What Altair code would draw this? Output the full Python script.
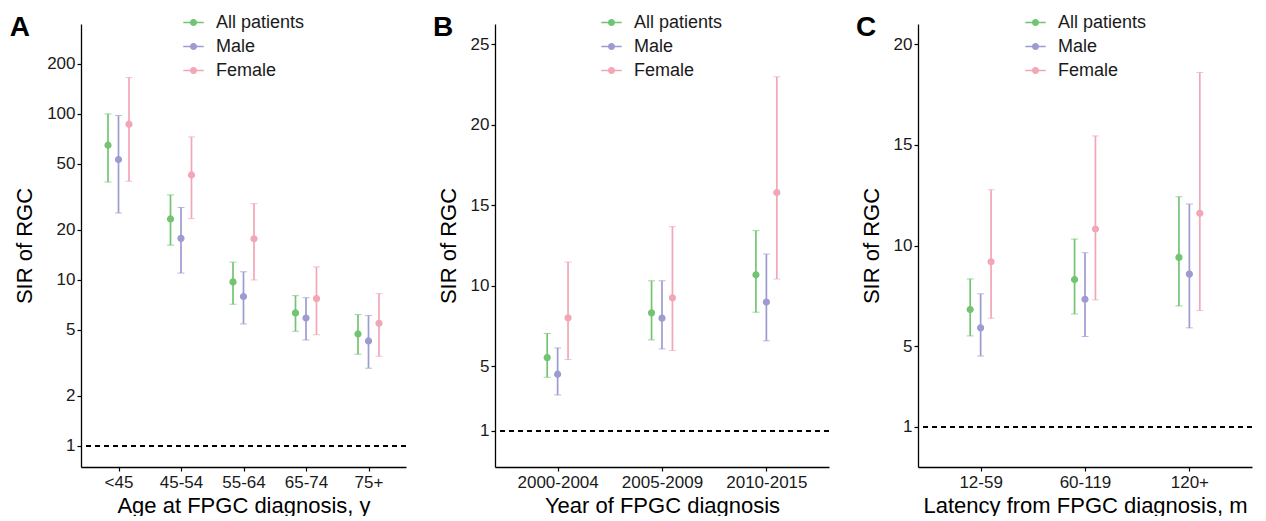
import json
import altair as alt
import pandas as pd

GROUPS = ["All patients", "Male", "Female"]
COLORS = ["#72C473", "#9C9BD2", "#F2A6B6"]
FONT = "Liberation Sans"
SYMBOL = "M-1,0L1,0M0.27,0A0.27,0.27,0,1,1,-0.27,0A0.27,0.27,0,1,1,0.27,0Z"

# Panel A: age at FPGC diagnosis
age_cats = ["<45", "45-54", "55-64", "65-74", "75+"]
a_all_est = [64.8, 23.3, 9.73, 6.33, 4.73]
a_all_lo = [38.9, 16.2, 7.14, 4.91, 3.57]
a_all_hi = [100.0, 32.5, 12.8, 8.04, 6.18]
a_male_est = [53.1, 17.8, 7.94, 5.90, 4.29]
a_male_lo = [25.3, 11.0, 5.43, 4.35, 2.94]
a_male_hi = [97.7, 27.3, 11.2, 7.82, 6.10]
a_female_est = [86.7, 42.9, 17.7, 7.72, 5.48]
a_female_lo = [39.3, 23.4, 10.0, 4.68, 3.47]
a_female_hi = [165.5, 72.7, 28.8, 11.98, 8.27]

# Panel B: year of FPGC diagnosis
year_cats = ["2000-2004", "2005-2009", "2010-2015"]
b_all_est = [5.54, 8.32, 10.68]
b_all_lo = [4.32, 6.64, 8.36]
b_all_hi = [7.04, 10.31, 13.42]
b_male_est = [4.51, 7.99, 8.99]
b_male_lo = [3.22, 6.08, 6.58]
b_male_hi = [6.14, 10.31, 11.97]
b_female_est = [8.01, 9.25, 15.79]
b_female_lo = [5.42, 5.98, 10.42]
b_female_hi = [11.47, 13.67, 22.97]

# Panel C: latency from FPGC diagnosis
lat_cats = ["12-59", "60-119", "120+"]
c_all_est = [6.82, 8.31, 9.41]
c_all_lo = [5.51, 6.60, 7.00]
c_all_hi = [8.34, 10.32, 12.42]
c_male_est = [5.91, 7.33, 8.58]
c_male_lo = [4.51, 5.48, 5.91]
c_male_hi = [7.60, 9.64, 12.06]
c_female_est = [9.19, 10.82, 11.60]
c_female_lo = [6.39, 7.30, 6.77]
c_female_hi = [12.77, 15.44, 18.59]


def make_df(cats, est, lo, hi, dodge):
    rows = []
    for gi, g in enumerate(GROUPS):
        for ci, c in enumerate(cats):
            rows.append(dict(cat=c, group=g, pos=ci + (gi - 1) * dodge,
                             est=est[gi][ci], lo=lo[gi][ci], hi=hi[gi][ci]))
    return pd.DataFrame(rows)


def panel(letter, cats, df, yscale, yvalues, xtitle, width, legend_x):
    n = len(cats)
    labexpr = json.dumps(cats) + "[round(datum.value)]"
    xenc = alt.X("pos:Q",
                 scale=alt.Scale(domain=[-0.6, n - 0.4], nice=False, zero=False),
                 axis=alt.Axis(values=list(range(n)), labelExpr=labexpr, title=xtitle,
                               labelPadding=3, titlePadding=5))
    yaxis = alt.Axis(values=yvalues, format="d", title="SIR of RGC", titlePadding=10)
    cscale = alt.Scale(domain=GROUPS, range=COLORS)
    leg = alt.Legend(orient="none", legendX=legend_x, legendY=-13,
                     symbolType=SYMBOL, symbolSize=420, symbolStrokeWidth=1.6,
                     labelFontSize=18, labelOffset=11, rowPadding=3, direction="vertical")
    base = alt.Chart(df)
    bars = base.mark_errorbar(ticks={"size": 7, "strokeWidth": 1.7},
                              rule={"strokeWidth": 1.7}).encode(
        x=xenc,
        y=alt.Y("lo:Q", scale=yscale, axis=yaxis),
        y2="hi:Q",
        color=alt.Color("group:N", scale=cscale, legend=None),
    )
    pts = base.mark_point(filled=False, size=36, strokeWidth=1.2, opacity=1).encode(
        x=xenc,
        y=alt.Y("est:Q", scale=yscale, axis=yaxis),
        color=alt.Color("group:N", scale=cscale, title=None, legend=leg),
        fill=alt.Fill("group:N", scale=cscale, title=None, legend=leg),
    )
    ref = base.mark_rule(color="black", strokeDash=[5, 4], strokeWidth=1.3).encode(
        y=alt.datum(1)
    )
    return alt.layer(ref, bars, pts).properties(
        width=width, height=443,
        title=alt.TitleParams(letter, anchor="start", frame="bounds", fontSize=28,
                              fontWeight="bold", font=FONT, color="black",
                              baseline="alphabetic", offset=-53, dx=-4),
    ).resolve_scale(color="independent", fill="independent")


df_a = make_df(age_cats, [a_all_est, a_male_est, a_female_est],
               [a_all_lo, a_male_lo, a_female_lo], [a_all_hi, a_male_hi, a_female_hi], 0.168)
df_b = make_df(year_cats, [b_all_est, b_male_est, b_female_est],
               [b_all_lo, b_male_lo, b_female_lo], [b_all_hi, b_male_hi, b_female_hi], 0.10)
df_c = make_df(lat_cats, [c_all_est, c_male_est, c_female_est],
               [c_all_lo, c_male_lo, c_female_lo], [c_all_hi, c_male_hi, c_female_hi], 0.10)

pa = panel("A", age_cats, df_a,
           alt.Scale(type="log", domain=[0.747, 348], nice=False),
           [1, 2, 5, 10, 20, 50, 100, 200], "Age at FPGC diagnosis, y", 325, 101)
pb = panel("B", year_cats, df_b,
           alt.Scale(domain=[-1.25, 26.25], nice=False, zero=False),
           [1, 5, 10, 15, 20, 25], "Year of FPGC diagnosis", 334, 105)
pc = panel("C", lat_cats, df_c,
           alt.Scale(domain=[-1, 21], nice=False, zero=False),
           [1, 5, 10, 15, 20], "Latency from FPGC diagnosis, m", 334, 106)

chart = alt.hconcat(pa, pb, pc, spacing=26).resolve_scale(
    color="independent", fill="independent"
).resolve_legend(color="independent", fill="independent").properties(
    padding={"left": 1, "top": 3, "right": 0, "bottom": 0}
).configure_view(stroke=None).configure_axis(
    grid=False, domainColor="black", domainWidth=1.3, tickColor="black", tickWidth=1.2,
    tickSize=4, labelFont=FONT, titleFont=FONT, labelFontSize=17, titleFontSize=22,
    labelColor="#1a1a1a", titleColor="black", titleFontWeight="normal"
).configure_legend(labelFont=FONT, labelColor="#1a1a1a")

chart.save("out.html", embed_options={"renderer": "svg", "actions": False})
